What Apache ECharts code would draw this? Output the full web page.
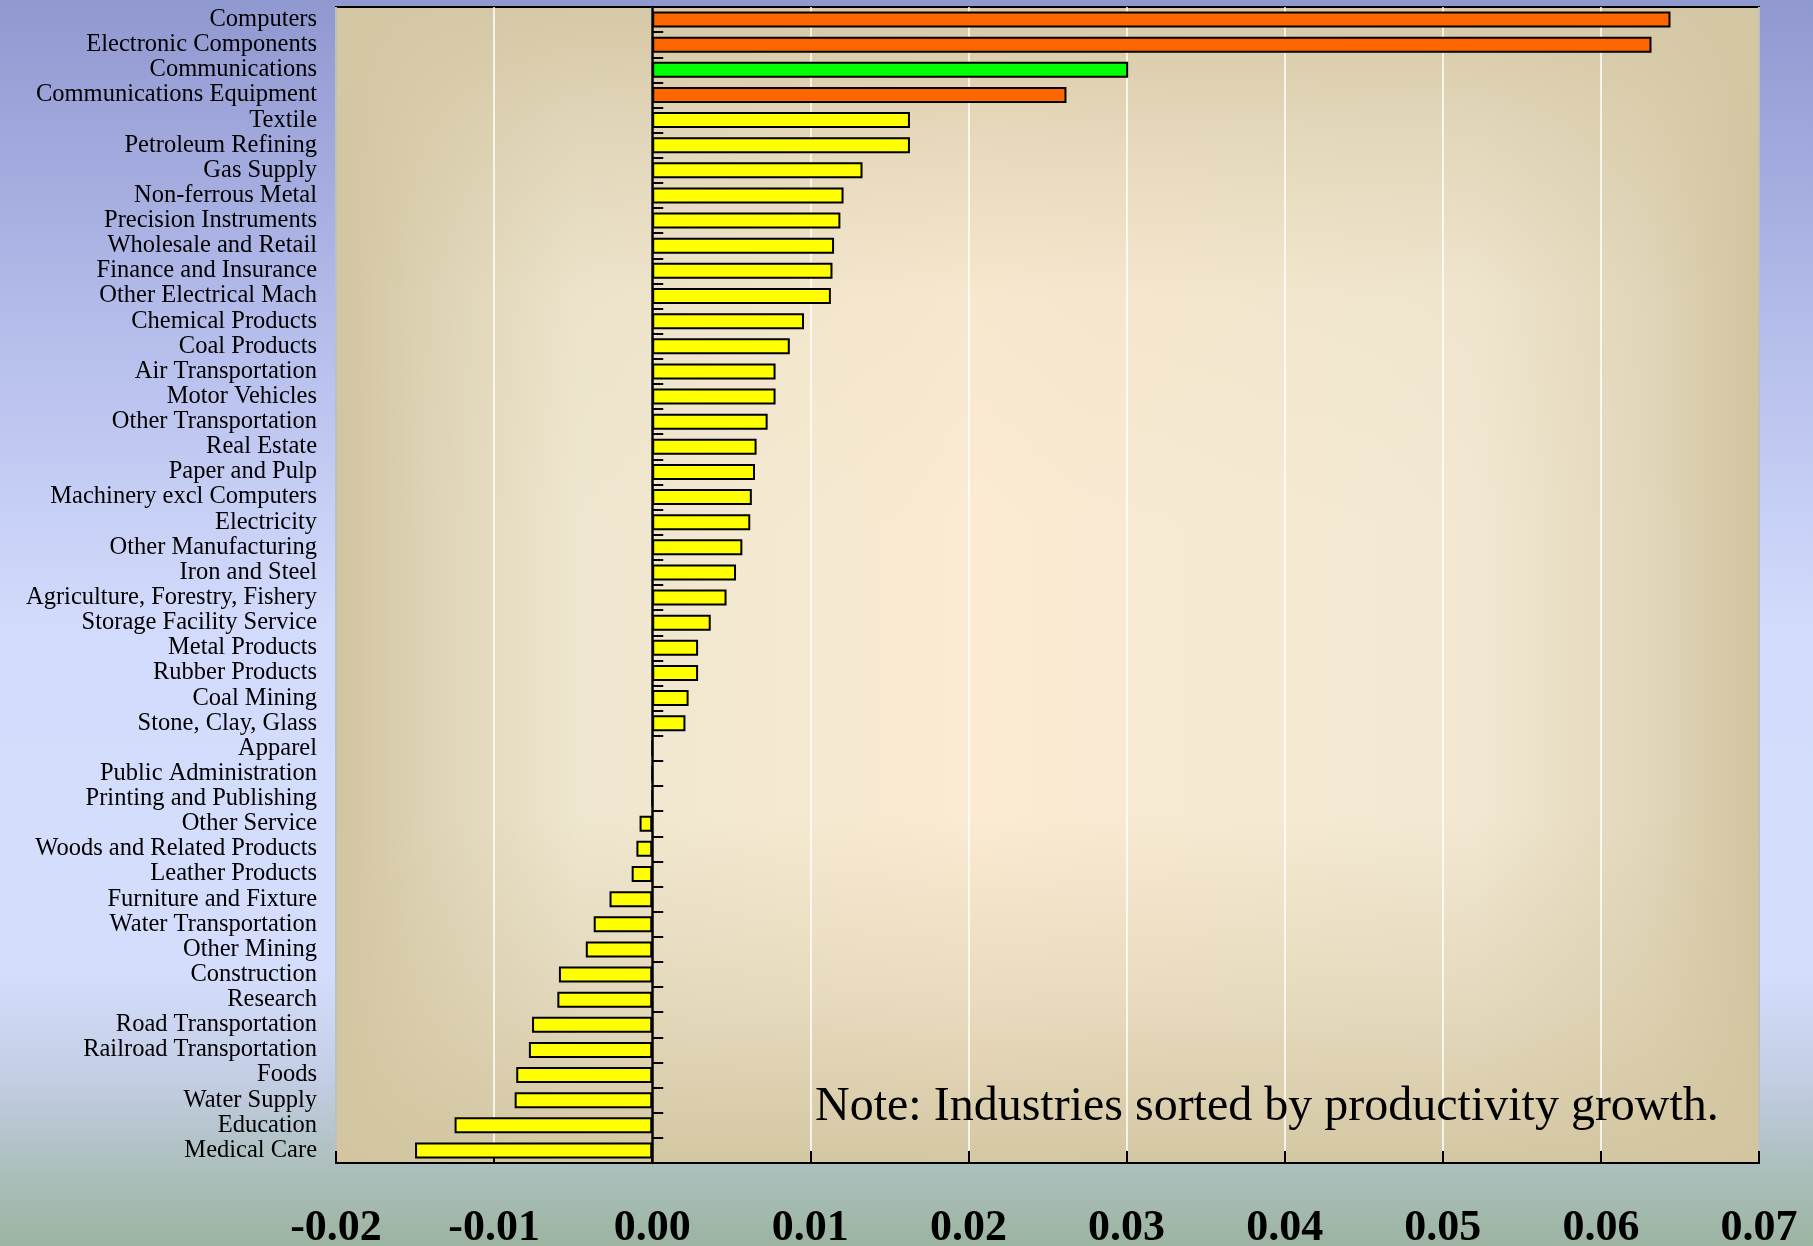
<!DOCTYPE html>
<html>
<head>
<meta charset="utf-8">
<script src="https://cdn.jsdelivr.net/npm/echarts@6/dist/echarts.min.js"></script>
<style>
  html, body { margin: 0; padding: 0; }
  #chart { width: 1813px; height: 1246px; }
</style>
</head>
<body>
<div id="chart"></div>
<script>
// ---- data ----
var categories = [
  'Computers', 'Electronic Components', 'Communications', 'Communications Equipment',
  'Textile', 'Petroleum Refining', 'Gas Supply', 'Non-ferrous Metal',
  'Precision Instruments', 'Wholesale and Retail', 'Finance and Insurance', 'Other Electrical Mach',
  'Chemical Products', 'Coal Products', 'Air Transportation', 'Motor Vehicles',
  'Other Transportation', 'Real Estate', 'Paper and Pulp', 'Machinery excl Computers',
  'Electricity', 'Other Manufacturing', 'Iron and Steel', 'Agriculture, Forestry, Fishery',
  'Storage Facility Service', 'Metal Products', 'Rubber Products', 'Coal Mining',
  'Stone, Clay, Glass', 'Apparel', 'Public Administration', 'Printing and Publishing',
  'Other Service', 'Woods and Related Products', 'Leather Products', 'Furniture and Fixture',
  'Water Transportation', 'Other Mining', 'Construction', 'Research',
  'Road Transportation', 'Railroad Transportation', 'Foods', 'Water Supply',
  'Education', 'Medical Care'
];
var growth = [
  0.0644, 0.0632, 0.0301, 0.0262,
  0.0163, 0.0163, 0.0133, 0.0121,
  0.0119, 0.0115, 0.0114, 0.0113,
  0.0096, 0.0087, 0.0078, 0.0078,
  0.0073, 0.0066, 0.0065, 0.0063,
  0.0062, 0.0057, 0.0053, 0.0047,
  0.0037, 0.0029, 0.0029, 0.0023,
  0.0021, 0.0000, 0.0000, 0.0000,
  -0.0008, -0.0010, -0.0013, -0.0027,
  -0.0037, -0.0042, -0.0059, -0.0060,
  -0.0076, -0.0078, -0.0086, -0.0087,
  -0.0125, -0.0150
];
var itIndustries = ['Computers', 'Electronic Components', 'Communications Equipment'];
var telecomIndustries = ['Communications'];
var xTicks = [-0.02, -0.01, 0.00, 0.01, 0.02, 0.03, 0.04, 0.05, 0.06, 0.07];
var noteText = 'Note: Industries sorted by productivity growth.';

// ---- chart ----
var FONT = "'Liberation Serif', 'Times New Roman', serif";
var G = { left: 336, top: 7, width: 1423, height: 1156 };

var chart = echarts.init(document.getElementById('chart'), null, { renderer: 'canvas' });

var barData = growth.map(function (v, i) {
  var name = categories[i];
  var c = '#ffff00';
  if (itIndustries.indexOf(name) >= 0) c = '#ff6600';
  if (telecomIndustries.indexOf(name) >= 0) c = '#00ff00';
  return { value: v, itemStyle: { color: c } };
});

var option = {
  animation: false,
  backgroundColor: new echarts.graphic.LinearGradient(0, 0, 0, 1, [
    { offset: 0.00, color: '#9098d0' },
    { offset: 0.25, color: '#b3bbea' },
    { offset: 0.50, color: '#d2dbfb' },
    { offset: 0.78, color: '#d4defc' },
    { offset: 0.87, color: '#c2cce2' },
    { offset: 0.94, color: '#abbfbb' },
    { offset: 1.00, color: '#9cb4a1' }
  ]),
  textStyle: { fontFamily: FONT },
  grid: {
    left: G.left, top: G.top, width: G.width, height: G.height,
    show: true, borderColor: '#000', borderWidth: 2, backgroundColor: 'transparent',
    containLabel: false,
    outerBoundsMode: 'none'
  },
  graphic: [
    {
      type: 'rect', z: -10,
      shape: { x: G.left, y: G.top, width: G.width, height: G.height },
      style: {
        fill: new echarts.graphic.LinearGradient(0, 0, 1, 0, [
          { offset: 0.00, color: '#d1c4a0' },
          { offset: 0.06, color: '#ddd2b3' },
          { offset: 0.17, color: '#efe6cf' },
          { offset: 0.45, color: '#faebd2' },
          { offset: 0.80, color: '#f2e8d2' },
          { offset: 0.92, color: '#e2d7ba' },
          { offset: 1.00, color: '#d1c4a0' }
        ])
      }
    },
    {
      type: 'rect', z: -9,
      shape: { x: G.left, y: G.top, width: G.width, height: G.height },
      style: {
        fill: new echarts.graphic.LinearGradient(0, 0, 0, 1, [
          { offset: 0.00, color: 'rgba(212,199,164,0.95)' },
          { offset: 0.10, color: 'rgba(212,199,164,0.55)' },
          { offset: 0.25, color: 'rgba(212,199,164,0.10)' },
          { offset: 0.45, color: 'rgba(212,199,164,0.0)' },
          { offset: 0.70, color: 'rgba(212,199,164,0.0)' },
          { offset: 0.86, color: 'rgba(212,199,164,0.45)' },
          { offset: 1.00, color: 'rgba(210,197,160,0.95)' }
        ])
      }
    },
    {
      type: 'text', z: 50,
      x: 815, y: 1131,
      style: {
        text: noteText,
        font: "48px 'Liberation Serif', 'Times New Roman', serif",
        fill: '#000',
        textAlign: 'left',
        textVerticalAlign: 'bottom',
        verticalAlign: 'bottom'
      }
    }
  ],
  xAxis: {
    type: 'value',
    min: xTicks[0],
    max: xTicks[xTicks.length - 1],
    interval: 0.01,
    position: 'bottom',
    axisLine: { show: false },
    axisTick: { show: true, inside: true, length: 12, lineStyle: { color: '#000', width: 2 } },
    splitLine: { show: true, lineStyle: { color: '#ffffff', width: 1.5 } },
    axisLabel: {
      margin: 44,
      fontFamily: FONT, fontSize: 44, fontWeight: 'bold', color: '#000',
      formatter: function (v) { return (Math.round(v * 100) / 100).toFixed(2); }
    }
  },
  yAxis: [
    {
      type: 'category',
      data: categories,
      inverse: true,
      position: 'left',
      axisLine: { show: false, onZero: false },
      axisTick: { show: false },
      splitLine: { show: false },
      axisLabel: {
        margin: 19, interval: 0,
        padding: [5, 0, 0, 0],
        fontFamily: FONT, fontSize: 24.5, color: '#000'
      }
    },
    {
      type: 'category',
      data: categories,
      inverse: true,
      position: 'left',
      axisLine: { show: true, onZero: true, lineStyle: { color: '#000', width: 2.5 } },
      axisTick: { show: true, inside: true, length: 11, interval: 0, lineStyle: { color: '#000', width: 2 } },
      splitLine: { show: false },
      axisLabel: { show: false }
    }
  ],
  series: [
    {
      type: 'bar',
      yAxisIndex: 0,
      data: barData,
      barWidth: 16,
      itemStyle: { borderColor: '#000', borderWidth: 2 },
      z: 3
    }
  ]
};

chart.setOption(option);
</script>
</body>
</html>
